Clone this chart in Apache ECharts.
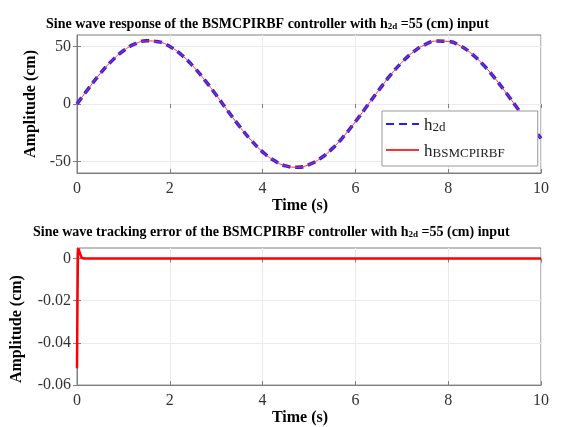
<!DOCTYPE html>
<html>
<head>
<meta charset="utf-8">
<script src="https://cdn.jsdelivr.net/npm/echarts@6/dist/echarts.min.js"></script>
<style>
html, body { margin: 0; padding: 0; background: #fff; }
#main { width: 580px; height: 427px; }
</style>
</head>
<body>
<div id="main"></div>
<script>
// 正弦响应（读图取值，0.25 s 一个点）
var timeTop = [0, 0.25, 0.5, 0.75, 1, 1.25, 1.5, 1.75, 2, 2.25, 2.5, 2.75, 3, 3.25, 3.5, 3.75, 4, 4.25, 4.5, 4.75,
	5, 5.25, 5.5, 5.75, 6, 6.25, 6.5, 6.75, 7, 7.25, 7.5, 7.75, 8, 8.25, 8.5, 8.75, 9, 9.25, 9.5, 9.75, 10];
var h2d = [0, 13.6, 26.4, 37.5, 46.3, 52.2, 54.9, 54.1, 50.0, 42.8, 32.9, 21.0, 7.8, -6.0, -19.3, -31.4, -41.6, -49.2, -53.8, -55.0,
	-52.7, -47.2, -38.8, -28.0, -15.4, -1.8, 11.8, 24.8, 36.1, 45.3, 51.6, 54.7, 54.4, 50.8, 43.9, 34.3, 22.7, 9.6, -4.1, -17.6, -29.9];
var hOut = [0, 13.6, 26.4, 37.5, 46.3, 52.2, 54.9, 54.1, 50.0, 42.8, 32.9, 21.0, 7.8, -6.0, -19.3, -31.4, -41.6, -49.2, -53.8, -55.0,
	-52.7, -47.2, -38.8, -28.0, -15.4, -1.8, 11.8, 24.8, 36.1, 45.3, 51.6, 54.7, 54.4, 50.8, 43.9, 34.3, 22.7, 9.6, -4.1, -17.6, -29.9];

// 跟踪误差
var timeErr = [0, 0.01, 0.02, 0.03, 0.05, 0.07, 0.1, 0.15, 0.2, 0.5, 1, 2, 3, 4, 5, 6, 7, 8, 9, 10];
var errVal = [-0.052, -0.02, 0.002, 0.0048, 0.004, 0.002, 0.0004, 0, 0, 0, 0, 0, 0, 0, 0, 0, 0, 0, 0, 0];

var yTicksTop = [-50, 0, 50];
var yTicksErr = [-0.06, -0.04, -0.02, 0];

function pairs(xs, ys) {
	var out = [];
	for (var i = 0; i < xs.length; i++) {
		out.push([xs[i], ys[i]]);
	}
	return out;
}

var serif = 'Liberation Serif';
var axisGray = '#7f7f7f';
var gridGray = '#ebebeb';
var labelStyle = { color: '#333', fontFamily: serif, fontSize: 16 };
var nameStyle = { color: '#000', fontFamily: serif, fontSize: 16, fontWeight: 'bold' };
var subRich = {
	b: { fontFamily: serif, fontSize: 14, fontWeight: 'bold', color: '#000', verticalAlign: 'bottom', lineHeight: 18 },
	s: { fontFamily: serif, fontSize: 9, fontWeight: 'bold', color: '#000', verticalAlign: 'bottom', lineHeight: 12 }
};

function xAxisOf(gi, nameGap) {
	return {
		type: 'value', gridIndex: gi, min: 0, max: 10, interval: 2,
		name: 'Time (s)', nameLocation: 'middle', nameGap: nameGap,
		nameTextStyle: Object.assign({ padding: [0, 18, 0, 0] }, nameStyle),
		axisLine: { show: true, onZero: false, lineStyle: { color: axisGray } },
		axisTick: { show: true, inside: true, length: 4, lineStyle: { color: axisGray } },
		axisLabel: Object.assign({ margin: 8 }, labelStyle),
		splitLine: { show: true, lineStyle: { color: gridGray } }
	};
}

// 上、右两边的内刻度（MATLAB box on）
function topAxisOf(gi) {
	return {
		type: 'value', gridIndex: gi, min: 0, max: 10, interval: 2, position: 'top',
		axisLine: { show: false },
		axisTick: { show: true, inside: true, length: 4, lineStyle: { color: axisGray } },
		axisLabel: { show: false }, splitLine: { show: false }
	};
}

function rightAxisOf(gi, min, max, ticks) {
	return {
		type: 'value', gridIndex: gi, min: min, max: max, position: 'right',
		axisLine: { show: false },
		axisTick: { show: true, inside: true, length: 4, customValues: ticks, lineStyle: { color: axisGray } },
		axisLabel: { show: false }, splitLine: { show: false }
	};
}

var myChart = echarts.init(document.getElementById('main'));
var option = {
	backgroundColor: '#fff',
	animation: false,
	title: [{
		text: '{b|Sine wave response of the BSMCPIRBF controller with h}{s|2d}{b| =55 (cm) input}',
		left: 41, top: 8,
		textStyle: { rich: subRich }
	}, {
		text: '{b|Sine wave tracking error of the BSMCPIRBF controller with h}{s|2d}{b| =55 (cm) input}',
		left: 28, top: 216,
		textStyle: { rich: subRich }
	}],
	grid: [
		{ left: 77, right: 39, top: 35, height: 138, show: true, borderColor: axisGray, borderWidth: 1, backgroundColor: '#fff' },
		{ left: 77, right: 39, top: 248, height: 138, show: true, borderColor: axisGray, borderWidth: 1, backgroundColor: '#fff' }
	],
	legend: {
		left: 382, top: 111,
		orient: 'vertical',
		data: ['h2d', 'hBSMCPIRBF'],
		backgroundColor: '#fff',
		borderColor: '#999', borderWidth: 1,
		padding: [6, 33, 6, 3],
		itemWidth: 33, itemHeight: 14, itemGap: 9,
		itemStyle: { opacity: 0 },
		formatter: function (name) {
			return name === 'h2d' ? '{h|h}{s|2d}' : '{h|h}{s|BSMCPIRBF}';
		},
		textStyle: {
			rich: {
				h: { fontFamily: serif, fontSize: 17, color: '#222', verticalAlign: 'bottom', lineHeight: 20 },
				s: { fontFamily: serif, fontSize: 13, color: '#222', verticalAlign: 'bottom', lineHeight: 13 }
			}
		}
	},
	xAxis: [xAxisOf(0, 20), xAxisOf(1, 19), topAxisOf(0), topAxisOf(1)],
	yAxis: [{
		type: 'value', gridIndex: 0, min: -60, max: 60,
		name: 'Amplitude (cm)', nameLocation: 'middle', nameGap: 36,
		nameTextStyle: nameStyle,
		axisLine: { show: true, lineStyle: { color: axisGray } },
		axisTick: { show: true, inside: true, length: 4, customValues: yTicksTop, lineStyle: { color: axisGray } },
		axisLabel: Object.assign({ customValues: yTicksTop, margin: 6 }, labelStyle),
		splitLine: { show: true, lineStyle: { color: gridGray } }
	}, {
		type: 'value', gridIndex: 1, min: -0.06, max: 0.005,
		name: 'Amplitude (cm)', nameLocation: 'middle', nameGap: 52,
		nameTextStyle: Object.assign({ padding: [0, 25, 0, 0] }, nameStyle),
		axisLine: { show: true, lineStyle: { color: axisGray } },
		axisTick: { show: true, inside: true, length: 4, customValues: yTicksErr, lineStyle: { color: axisGray } },
		axisLabel: Object.assign({ customValues: yTicksErr, margin: 6 }, labelStyle),
		splitLine: { show: true, lineStyle: { color: gridGray } }
	}, rightAxisOf(0, -60, 60, yTicksTop), rightAxisOf(1, -0.06, 0.005, yTicksErr)],
	series: [{
		name: 'h2d', type: 'line', xAxisIndex: 0, yAxisIndex: 0,
		smooth: true, symbol: 'none',
		lineStyle: { color: '#1f1fff', width: 3.5, type: [8, 5] },
		itemStyle: { color: '#1f1fff' },
		data: pairs(timeTop, h2d)
	}, {
		name: 'hBSMCPIRBF', type: 'line', xAxisIndex: 0, yAxisIndex: 0,
		smooth: true, symbol: 'none',
		lineStyle: { color: '#ff3030', width: 1 },
		itemStyle: { color: '#ff3030' },
		data: pairs(timeTop, hOut)
	}, {
		name: 'error', type: 'line', xAxisIndex: 1, yAxisIndex: 1,
		symbol: 'none',
		lineStyle: { color: '#ff0000', width: 2.5 },
		data: pairs(timeErr, errVal)
	}]
};
myChart.setOption(option);
</script>
</body>
</html>
